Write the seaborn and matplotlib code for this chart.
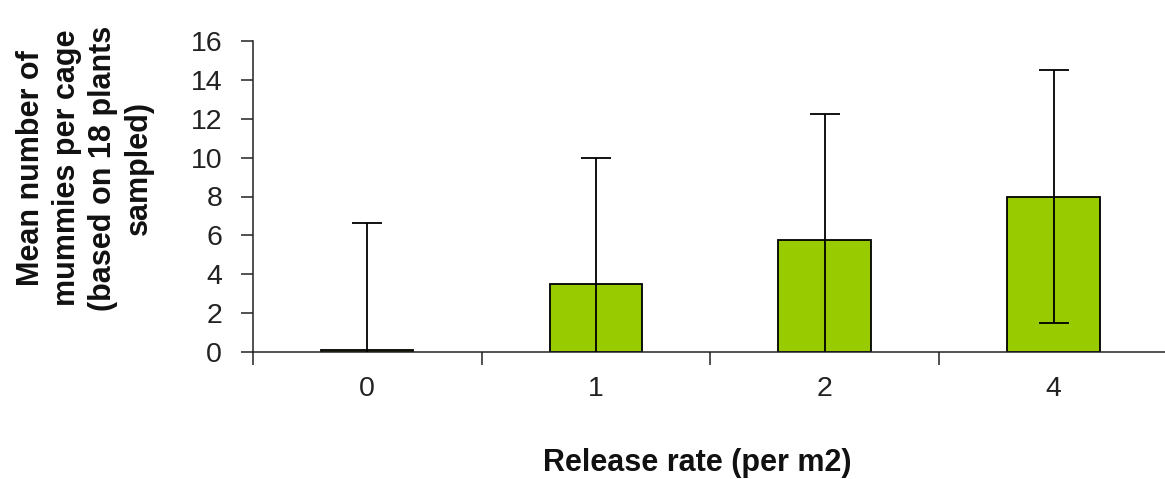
import matplotlib
matplotlib.use("Agg")
import matplotlib.pyplot as plt
import seaborn as sns
import pandas as pd
import numpy as np
from matplotlib.ticker import FixedLocator

categories = ["0", "1", "2", "4"]
means = [0.12, 3.5, 5.75, 8.0]
errors = [6.5, 6.5, 6.5, 6.5]
yticks = [0, 2, 4, 6, 8, 10, 12, 14, 16]

sns.set_style("ticks")
plt.rcParams["font.family"] = ["Liberation Sans", "DejaVu Sans"]

df = pd.DataFrame({"rate": categories, "mean": means})

fig = plt.figure(figsize=(11.65, 4.79), dpi=100)
ax = fig.add_axes([252.7 / 1165, (479 - 352) / 479, (1168 - 252.7) / 1165, (352 - 41) / 479])

sns.barplot(data=df, x="rate", y="mean", order=categories, color="#99CC00",
            edgecolor="black", linewidth=1.3, width=0.405, saturation=1,
            errorbar=None, ax=ax)
ax.errorbar(x=np.arange(len(categories)), y=means, yerr=errors, fmt="none",
            ecolor="black", elinewidth=1.3, capsize=10.5, capthick=1.3, zorder=5)

ax.set_xlim(-0.5, len(categories) - 0.5)
ax.set_ylim(0, 16)
ax.set_yticks(yticks)
ax.set_yticklabels([str(v) for v in yticks], fontsize=20.5, color="#222222")

# category boundaries as major ticks, labels on minor ticks
ax.xaxis.set_major_locator(FixedLocator(np.arange(-0.5, len(categories), 1.0)))
ax.set_xticklabels([""] * len(categories + [""]))
ax.xaxis.set_minor_locator(FixedLocator(np.arange(len(categories))))
ax.set_xticklabels(categories, minor=True, fontsize=20.5, color="#222222")
ax.tick_params(axis="x", which="major", direction="out", length=9, width=1.1, color="#222222")
ax.tick_params(axis="x", which="minor", length=0, pad=17)
ax.tick_params(axis="y", direction="out", length=9, width=1.1, pad=13, color="#222222")

for s in ["top", "right"]:
    ax.spines[s].set_visible(False)
for s in ["left", "bottom"]:
    ax.spines[s].set_linewidth(1.1)
    ax.spines[s].set_color("#222222")

ax.set_ylabel("Mean number of\nmummies per cage\n(based on 18 plants\nsampled)",
              fontsize=22, fontweight="bold", va="center", ha="center",
              multialignment="center", linespacing=1.27, color="#111111")
ax.yaxis.set_label_coords((85 - 252.7) / 915.3, (352 - 168) / 311)
ax.set_xlabel("Release rate (per m2)", fontsize=22, fontweight="bold",
              va="center", color="#111111")
ax.xaxis.set_label_coords((697 - 252.7) / 915.3, (352 - 463) / 311)

fig.savefig("out.png", dpi=100)
